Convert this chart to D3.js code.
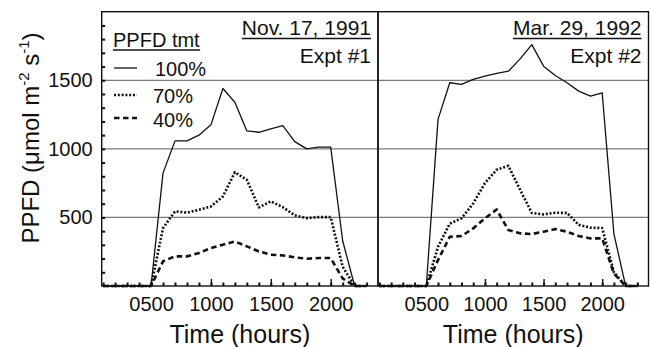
<!DOCTYPE html>
<html><head><meta charset="utf-8">
<script src="https://cdn.jsdelivr.net/npm/d3@7"></script>
<style>
html,body{margin:0;padding:0;background:#fff;}
svg{display:block;font-family:"Liberation Sans",Arial,sans-serif;}
</style></head>
<body><svg id="c" width="650" height="347"></svg>
<script>
// ---- data ----
const hours = [1,2,3,4,5,6,7,8,9,10,11,12,13,14,15,16,17,18,19,20,21,22,23];
const expt1_100 = [0,0,0,0,0,823,1058,1058,1100,1175,1440,1340,1131,1121,1146,1170,1053,1000,1012,1012,330,0,0];
const expt1_70  = [0,0,0,0,0,422,544,535,556,580,653,830,774,573,617,575,515,495,502,502,140,0,0];
const expt1_40  = [0,0,0,0,0,180,216,216,240,277,301,325,289,252,228,223,209,199,204,204,55,0,0];
const expt2_100 = [0,0,0,0,0,1215,1482,1470,1506,1530,1550,1566,1656,1760,1603,1535,1482,1421,1385,1409,380,0,0];
const expt2_70  = [0,0,0,0,0,286,455,493,602,750,848,876,702,532,522,534,533,446,425,423,100,0,0];
const expt2_40  = [0,0,0,0,0,189,359,364,420,493,558,408,384,379,396,415,396,364,347,347,90,0,0];
const xTickValues = [5,10,15,20];
const xTickLabels = ["0500","1000","1500","2000"];
const yTickValues = [500,1000,1500];
const legendLabels = ["100%","70%","40%"];
const panelTitles = ["Nov. 17, 1991","Mar. 29, 1992"];
const panelSubtitles = ["Expt #1","Expt #2"];

// ---- layout ----
const svg = d3.select("#c");
const plotTop = 11.7, plotBottom = 286;
const panels = [
  {x0:101.7, x1:378, series:[expt1_100, expt1_70, expt1_40]},
  {x0:378, x1:648.5, series:[expt2_100, expt2_70, expt2_40]}
];
const y = d3.scaleLinear().domain([0,2000]).range([plotBottom, plotTop]);
const styles = [
  {w:1.3, dash:null},
  {w:2.6, dash:"2,1.8"},
  {w:2.6, dash:"5.5,3.5"}
];

// gridlines across both panels
svg.append("g").selectAll("line").data(yTickValues).join("line")
  .attr("x1",101.7).attr("x2",648.5)
  .attr("y1",d=>y(d)).attr("y2",d=>y(d))
  .attr("stroke","#7a7a7a").attr("stroke-width",1.2);

panels.forEach((p,pi)=>{
  const x = d3.scaleLinear().domain([0.88,23.95]).range([p.x0,p.x1]);
  const g = svg.append("g");
  const line = d3.line().x((d,i)=>x(hours[i])).y(d=>y(d));
  p.series.forEach((s,si)=>{
    g.append("path").datum(s).attr("d",line)
      .attr("fill","none").attr("stroke","#111")
      .attr("stroke-width",styles[si].w)
      .attr("stroke-dasharray",styles[si].dash)
      .attr("stroke-linejoin","round");
  });
  // x axis minor ticks (inward)
  const xa = d3.axisBottom(x).tickValues(hours).tickSize(-3.5).tickFormat("");
  const gx = svg.append("g").attr("transform",`translate(0,${plotBottom})`).call(xa);
  gx.select(".domain").remove();
  gx.selectAll("line").attr("stroke","#111").attr("stroke-width",2);
  const xm = d3.axisBottom(x).tickValues(xTickValues).tickSize(-7).tickPadding(10)
    .tickFormat((d,i)=>xTickLabels[i]);
  const gm = svg.append("g").attr("transform",`translate(0,${plotBottom})`).call(xm);
  gm.select(".domain").remove();
  gm.selectAll("line").attr("stroke","#111").attr("stroke-width",1.4);
  gm.selectAll("text").attr("font-size",20).attr("fill","#111")
    .attr("font-family","Liberation Sans, Arial, sans-serif").attr("dy","0.75em");
  // frame
  svg.append("rect").attr("x",p.x0).attr("y",plotTop).attr("width",p.x1-p.x0).attr("height",plotBottom-plotTop)
    .attr("fill","none").attr("stroke","#111").attr("stroke-width",1.4);
  // x label
  svg.append("text").attr("x",(p.x0+p.x1)/2).attr("y",343).attr("text-anchor","middle")
    .attr("font-size",25).attr("fill","#111").text("Time (hours)");
  // titles
  const tx = p.x1-7;
  const t1 = svg.append("text").attr("x",tx).attr("y",35).attr("text-anchor","end")
    .attr("font-size",21).attr("fill","#111").text(panelTitles[pi]);
  const bb = t1.node().getBBox();
  svg.append("line").attr("x1",bb.x).attr("x2",bb.x+bb.width).attr("y1",38.5).attr("y2",38.5)
    .attr("stroke","#111").attr("stroke-width",1.3);
  svg.append("text").attr("x",tx).attr("y",63).attr("text-anchor","end")
    .attr("font-size",21).attr("fill","#111").text(panelSubtitles[pi]);
});

// y axis
const ya = d3.axisLeft(y).tickValues(d3.range(100,2000,100)).tickSize(-3.5).tickFormat("");
const gy = svg.append("g").attr("transform","translate(101.7,0)").call(ya);
gy.select(".domain").remove();
gy.selectAll("line").attr("stroke","#111").attr("stroke-width",2);
const yl = d3.axisLeft(y).tickValues(yTickValues).tickSize(0).tickPadding(9).tickFormat(d3.format("d"));
const gyl = svg.append("g").attr("transform","translate(101.7,0)").call(yl);
gyl.select(".domain").remove();
gyl.selectAll("text").attr("font-size",20).attr("fill","#111")
  .attr("font-family","Liberation Sans, Arial, sans-serif");

// y label
const ylab = svg.append("text").attr("transform","translate(39,138) rotate(-90)")
  .attr("text-anchor","middle").attr("font-size",24).attr("fill","#111");
ylab.append("tspan").text("PPFD (μmol  m");
ylab.append("tspan").attr("dy",-10).attr("font-size",15).text("-2");
ylab.append("tspan").attr("dy",10).text(" s");
ylab.append("tspan").attr("dy",-10).attr("font-size",15).text("-1");
ylab.append("tspan").attr("dy",10).text(")");

// legend
const lg = svg.append("g");
lg.append("text").attr("x",113).attr("y",46.5).attr("font-size",20).attr("fill","#111").text("PPFD tmt");
const lb = lg.select("text").node().getBBox();
lg.append("line").attr("x1",lb.x).attr("x2",lb.x+lb.width).attr("y1",50).attr("y2",50)
  .attr("stroke","#111").attr("stroke-width",1.3);
const legY = [68,95,118];
const legTY = [76,103,127];
legendLabels.forEach((t,i)=>{
  lg.append("line").attr("x1",114).attr("x2",137).attr("y1",legY[i]).attr("y2",legY[i])
    .attr("stroke","#111").attr("stroke-width",styles[i].w).attr("stroke-dasharray",styles[i].dash);
  lg.append("text").attr("x",i===0?155:153).attr("y",legTY[i]).attr("font-size",20).attr("fill","#111").text(t);
});
</script></body></html>
